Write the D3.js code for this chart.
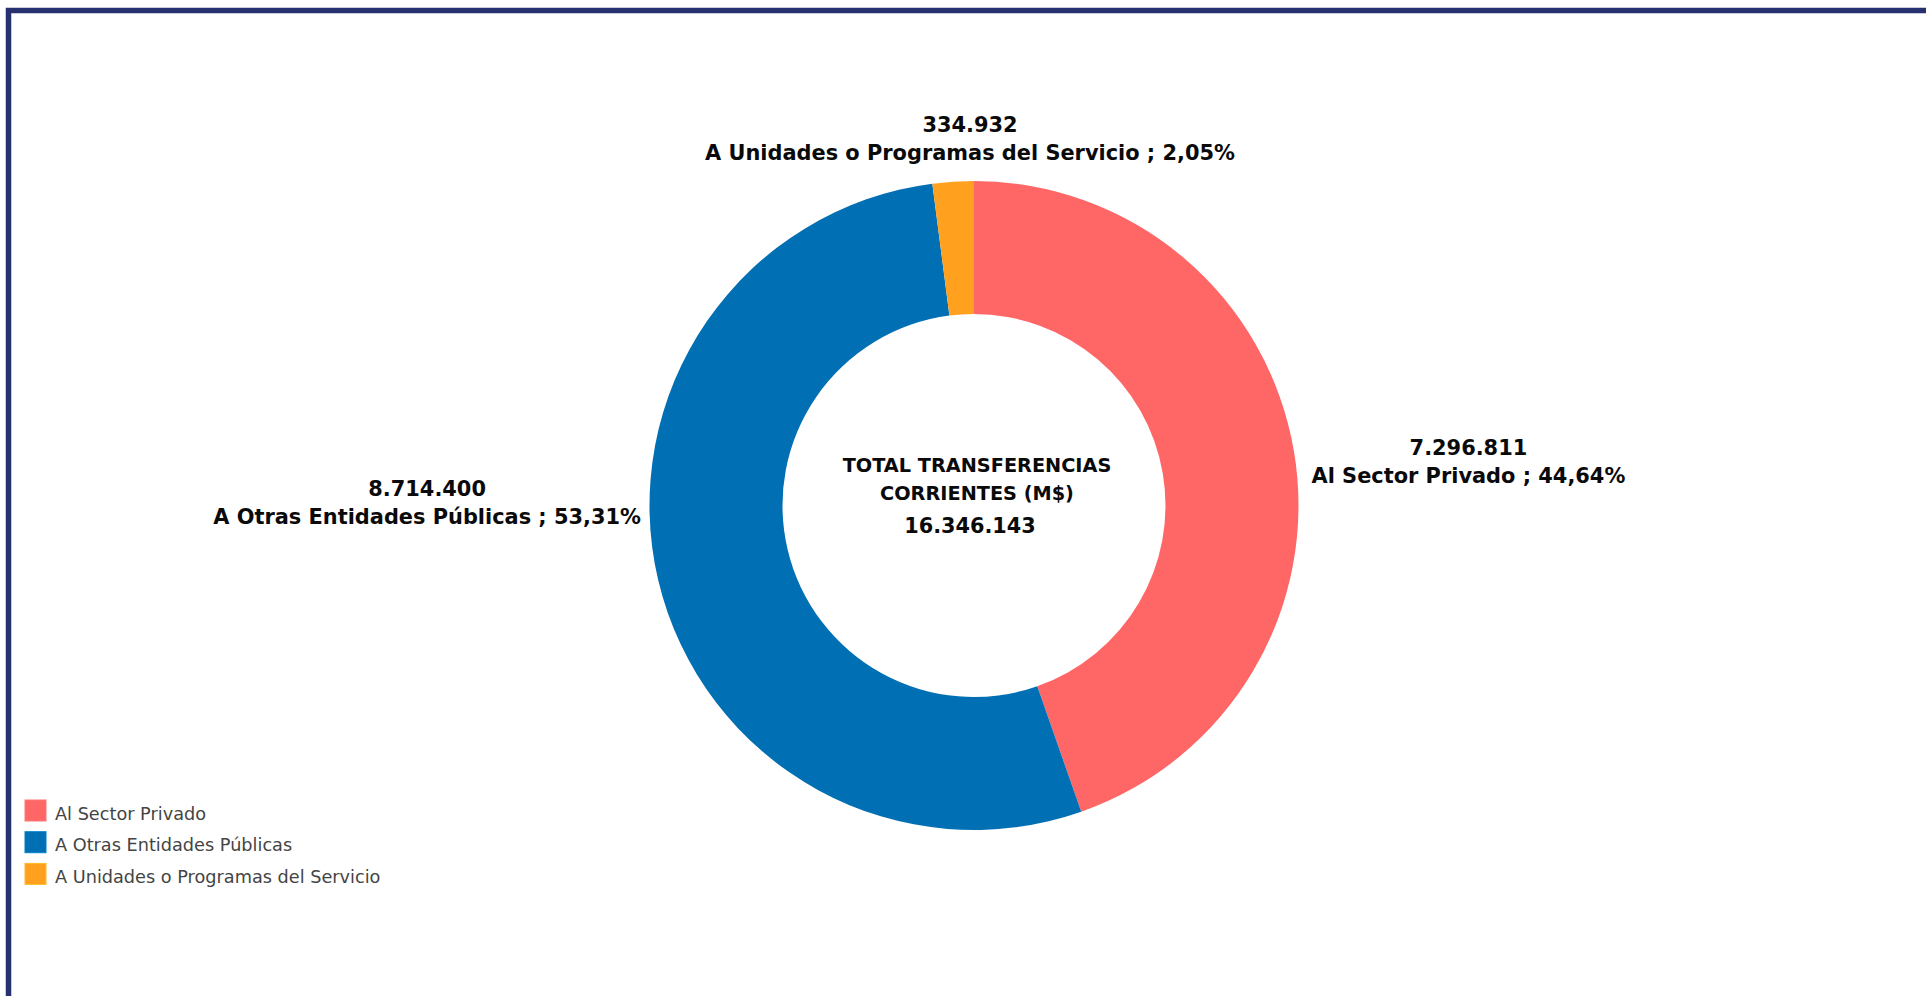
<!DOCTYPE html>
<html>
<head>
<meta charset="utf-8">
<script src="https://cdn.jsdelivr.net/npm/d3@7"></script>
<style>
  html, body { margin: 0; padding: 0; background: #fff; overflow: hidden; }
  svg { display: block; }
</style>
</head>
<body>
<svg id="chart" width="1926" height="996"></svg>
<script>
// ---- data ----
const categories = ["Al Sector Privado", "A Otras Entidades Públicas", "A Unidades o Programas del Servicio"];
const values = [7296811, 8714400, 334932];
const colors = ["#FF6666", "#006FB3", "#FFA11F"];
const centerTitle = ["TOTAL TRANSFERENCIAS", "CORRIENTES (M$)"];

// ---- setup ----
const W = 1926, H = 996;
const svg = d3.select("#chart");
const FONT = "'DejaVu Sans', Verdana, sans-serif";

const loc = d3.formatLocale({ decimal: ",", thousands: ".", grouping: [3], currency: ["$", ""] });
const fmtInt = loc.format(",d");
const fmtPct = loc.format(".2f");

const total = d3.sum(values);
const data = categories.map((c, i) => ({ name: c, value: values[i], color: colors[i] }));

// frame
svg.append("rect")
  .attr("x", 8.5).attr("y", 10.5)
  .attr("width", W + 50).attr("height", H + 50)
  .attr("fill", "none")
  .attr("stroke", "#283170")
  .attr("stroke-width", 5.5);

const cx = 974, cy = 505.5, R = 324.5, r = 191.5;

const pie = d3.pie().value(d => d.value).sort(null).startAngle(0).endAngle(2 * Math.PI);
const arc = d3.arc().innerRadius(r).outerRadius(R);
const arcs = pie(data);

const g = svg.append("g").attr("transform", `translate(${cx},${cy})`);
g.selectAll("path.slice")
  .data(arcs)
  .join("path")
  .attr("class", "slice")
  .attr("d", arc)
  .attr("fill", d => d.data.color);

// outside labels
const LFS = 20.9;
arcs.forEach(d => {
  const mid = (d.startAngle + d.endAngle) / 2;
  const sx = Math.sin(mid);
  const line1 = fmtInt(d.data.value);
  const line2 = `${d.data.name} ; ${fmtPct(d.data.value / total * 100)}%`;
  const t = svg.append("g")
    .attr("font-family", FONT).attr("font-weight", "bold")
    .attr("font-size", LFS).attr("fill", "#0a0a0a");
  if (Math.abs(sx) < 0.5) {
    // top label
    const x = cx - 4;
    const y2 = cy - R - 21;
    t.append("text").attr("x", x).attr("y", y2 - 28).attr("text-anchor", "middle").text(line1);
    t.append("text").attr("x", x).attr("y", y2).attr("text-anchor", "middle").text(line2);
  } else if (sx > 0) {
    const x0 = cx + R + 13;
    const y2 = cy - 22.5;
    const l2 = t.append("text").attr("x", x0).attr("y", y2).attr("text-anchor", "start").text(line2);
    const w2 = l2.node().getComputedTextLength();
    t.append("text").attr("x", x0 + w2 / 2).attr("y", y2 - 28).attr("text-anchor", "middle").text(line1);
  } else {
    const x1 = cx - R - 8.5;
    const y2 = cy + 18.5;
    const l2 = t.append("text").attr("x", x1).attr("y", y2).attr("text-anchor", "end").text(line2);
    const w2 = l2.node().getComputedTextLength();
    t.append("text").attr("x", x1 - w2 / 2).attr("y", y2 - 28).attr("text-anchor", "middle").text(line1);
  }
});

// center text
const ct = svg.append("g")
  .attr("font-family", FONT).attr("font-weight", "bold").attr("fill", "#0a0a0a")
  .attr("text-anchor", "middle");
centerTitle.forEach((s, i) => {
  ct.append("text").attr("x", cx + 3).attr("y", 472 + i * 27.5).attr("font-size", 19.3).text(s);
});
ct.append("text").attr("x", cx - 4).attr("y", 533).attr("font-size", 20.8).text(fmtInt(total));

// legend
const lg = svg.append("g").attr("font-family", FONT).attr("font-size", 17.7);
const rowH = 31.7;
const items = lg.selectAll("g.item").data(data).join("g")
  .attr("class", "item")
  .attr("transform", (d, i) => `translate(25, ${800 + i * rowH})`);
items.append("rect")
  .attr("width", 21).attr("height", 21)
  .attr("fill", d => d.color)
  .attr("stroke", d => d3.color(d.color).brighter(0.4))
  .attr("stroke-width", 1);
items.append("text")
  .attr("x", 30).attr("y", 19.5)
  .attr("fill", "#444")
  .text(d => d.name);
</script>
</body>
</html>
